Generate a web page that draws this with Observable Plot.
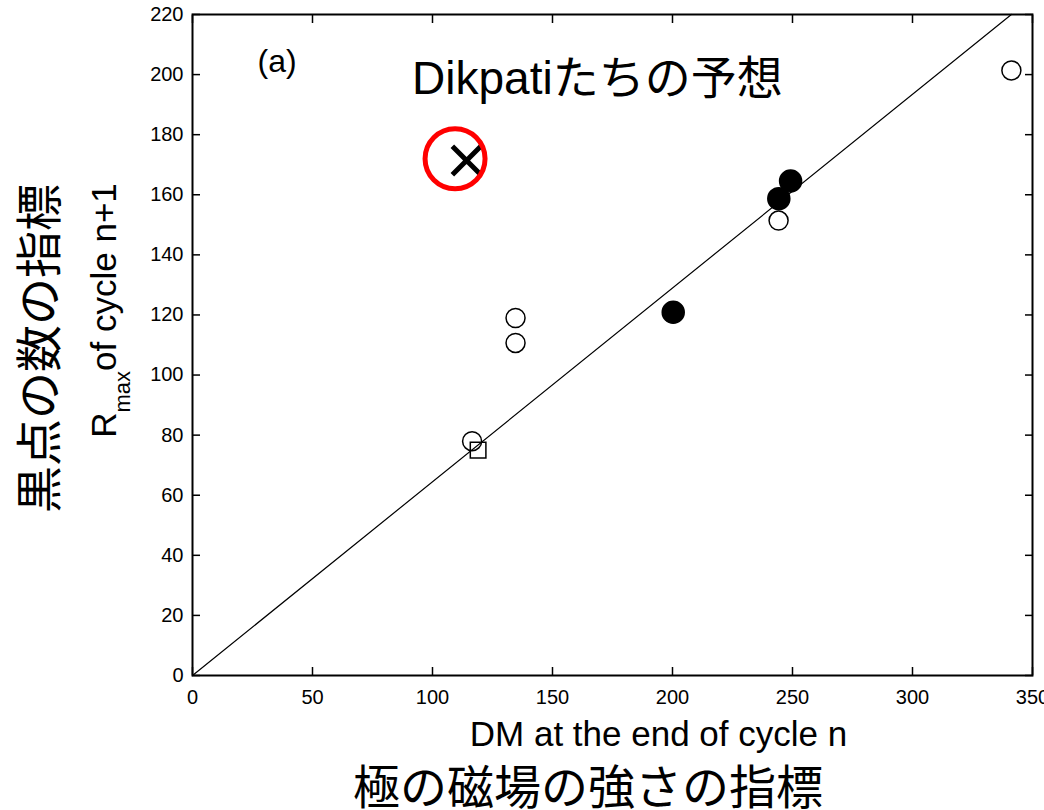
<!DOCTYPE html>
<html>
<head>
<meta charset="utf-8">
<script src="https://cdn.jsdelivr.net/npm/d3@7"></script>
<script src="https://cdn.jsdelivr.net/npm/@observablehq/plot@0.6"></script>
<style>
  html, body { margin: 0; padding: 0; background: #fff; overflow: hidden; }
</style>
</head>
<body>
<div id="chart"></div>
<script>
// ---- data ----
const xTicks = [0, 50, 100, 150, 200, 250, 300, 350];
const yTicks = [0, 20, 40, 60, 80, 100, 120, 140, 160, 180, 200, 220];

// open circles
const openX = [116.5, 134.6, 134.6, 244.2, 341.2];
const openY = [78.0, 119.0, 110.7, 151.4, 201.4];
// filled circles
const filledX = [200.3, 244.3, 249.2];
const filledY = [120.9, 158.7, 164.6];
// open square
const squareX = [119.0];
const squareY = [75.0];
// prediction (x marker)
const predX = [114.2];
const predY = [171.4];
// red highlight ring
const ringX = [109.4];
const ringY = [172.0];
// straight fit line endpoints
const lineX = [0, 341.2];
const lineY = [0, 220];

// annotations
const annotText = ["(a)", "Dikpatiたちの予想"];
const annotX = [27.1, 91.5];
const annotY = [201.0, 193.7];

const xLabelEn = "DM at the end of cycle n";
const xLabelJa = "極の磁場の強さの指標";
const yLabelEn = "Rmax of cycle n+1";
const yLabelJa = "黒点の数の指標";

// ---- tables ----
const zip = (xs, ys) => xs.map((x, i) => ({x, y: ys[i]}));
const openPts = zip(openX, openY);
const filledPts = zip(filledX, filledY);
const squarePts = zip(squareX, squareY);
const predPts = zip(predX, predY);
const ringPts = zip(ringX, ringY);
const linePts = zip(lineX, lineY);
const annotPts = annotText.map((t, i) => ({t, x: annotX[i], y: annotY[i]}));

const latin = "'Liberation Sans', Arial, Helvetica, sans-serif";
const cjk = "'Noto Sans CJK JP', sans-serif";
const mixed = "'Liberation Sans', Arial, 'Noto Sans CJK JP', sans-serif";

const chart = Plot.plot({
  width: 1044,
  height: 810,
  marginLeft: 192,
  marginRight: 12,
  marginTop: 14,
  marginBottom: 135,
  x: {domain: [0, 350]},
  y: {domain: [0, 220]},
  style: {fontFamily: latin, fontSize: "20px", color: "black", background: "white", overflow: "visible"},
  marks: [
    Plot.axisX({ticks: xTicks, tickSize: -8, tickPadding: 22, label: null, strokeWidth: 1.5}),
    Plot.axisX({anchor: "top", ticks: xTicks, tickSize: -8, tickFormat: () => "", label: null, strokeWidth: 1.5}),
    Plot.axisY({ticks: yTicks, tickSize: -8, tickPadding: 17, label: null, strokeWidth: 1.5}),
    Plot.axisY({anchor: "right", ticks: yTicks, tickSize: -8, tickFormat: () => "", label: null, strokeWidth: 1.5}),
    Plot.frame({stroke: "black", strokeWidth: 2}),
    Plot.line(linePts, {x: "x", y: "y", stroke: "black", strokeWidth: 1.2}),
    Plot.dot(openPts, {x: "x", y: "y", r: 9.5, stroke: "black", strokeWidth: 1.5, fill: "none"}),
    Plot.dot(squarePts, {x: "x", y: "y", symbol: "square", r: 8.8, stroke: "black", strokeWidth: 1.5, fill: "none"}),
    Plot.dot(filledPts, {x: "x", y: "y", r: 11, fill: "black", stroke: "black"}),
    Plot.dot(predPts, {x: "x", y: "y", symbol: "times", r: 13, stroke: "black", strokeWidth: 5}),
    Plot.dot(ringPts, {x: "x", y: "y", r: 30, stroke: "#ff0000", strokeWidth: 5, fill: "none"}),
    Plot.text(annotPts.slice(0, 1), {x: "x", y: "y", text: "t", textAnchor: "start", lineAnchor: "bottom", fontSize: 32, fontFamily: latin}),
    Plot.text(annotPts.slice(1), {x: "x", y: "y", text: "t", textAnchor: "start", lineAnchor: "bottom", fontSize: 46, fontFamily: mixed}),
    Plot.text([xLabelEn], {frameAnchor: "bottom", textAnchor: "middle", lineAnchor: "bottom", dx: 46, dy: 70, fontSize: 35, fontFamily: latin}),
    Plot.text([xLabelJa], {frameAnchor: "bottom", textAnchor: "middle", lineAnchor: "bottom", dx: -24.5, dy: 128, fontSize: 47, fontFamily: cjk}),
    Plot.text([yLabelJa], {frameAnchor: "left", rotate: -90, textAnchor: "middle", lineAnchor: "bottom", dx: -137, dy: 3.5, fontSize: 47, fontFamily: cjk}),
    Plot.text([yLabelEn], {frameAnchor: "left", rotate: -90, textAnchor: "middle", lineAnchor: "bottom", dx: -77, dy: -34.5, fontSize: 35, fontFamily: latin})
  ]
});

// subscript "max" in the y label
d3.select(chart).selectAll("text").filter(function () { return this.textContent === yLabelEn; })
  .each(function () {
    const t = d3.select(this);
    t.text(null);
    t.append("tspan").text("R");
    t.append("tspan").attr("font-size", 22).attr("dy", 14).text("max");
    t.append("tspan").attr("dy", -14).text("of cycle n+1");
  });

document.getElementById("chart").appendChild(chart);
</script>
</body>
</html>
